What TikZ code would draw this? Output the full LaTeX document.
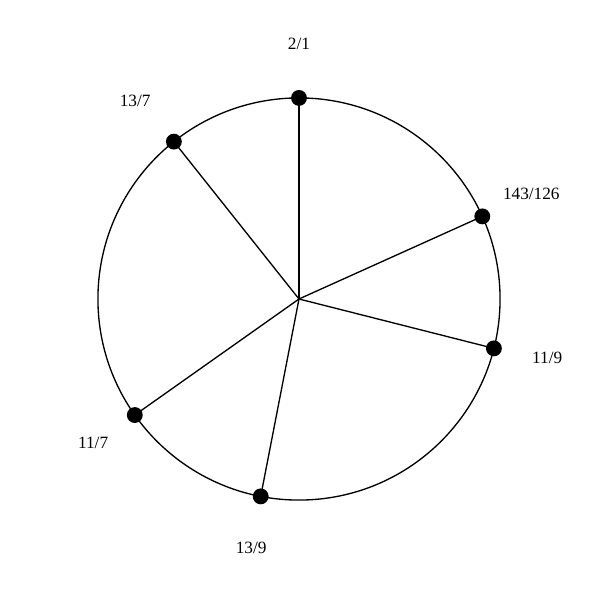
\documentclass[tikz,border=0pt]{standalone}
\usepackage{fontspec}
\setmainfont{Liberation Serif}
\usetikzlibrary{positioning}

\begin{document}
\begin{tikzpicture}[
  dot/.style={circle, fill=black, inner sep=0pt, minimum size=0.42cm},
  ratio/.style={font=\fontsize{13}{15}\selectfont, inner sep=0pt},
  spoke/.style={line width=1pt}]

% frame
\useasboundingbox (-7.911, -7.964) rectangle (7.964, 7.911);

% Centre and circle
\coordinate (c) at (0, 0);
\draw[line width=1pt] (c) circle (5.32);

% Spokes to the ratios
\node[dot] (p21) at (90:5.32) {};
\node[dot] (p143) at (24.26:5.32) {};
\node[dot] (p119) at (-14.22:5.32) {};
\node[dot] (p139) at (-100.98:5.32) {};
\node[dot] (p117) at (-144.75:5.32) {};
\node[dot] (p137) at (128.49:5.32) {};

\draw[spoke] (c)--(p21.center);
\draw[spoke] (c)--(p143.center);
\draw[spoke] (c)--(p119.center);
\draw[spoke] (c)--(p139.center);
\draw[spoke] (c)--(p117.center);
\draw[spoke] (c)--(p137.center);

% Labels
\node[ratio] (l21) at (90:6.75) {2/1};
\node[ratio] (l143) at (24.4:6.75) {143/126};
\node[ratio] (l119) at (-13.4:6.75) {11/9};
\node[ratio] (l139) at (-100.9:6.7) {13/9};
\node[ratio] (l117) at (-145:6.65) {11/7};
\node[ratio] (l137) at (129.6:6.8) {13/7};

\end{tikzpicture}
\end{document}
